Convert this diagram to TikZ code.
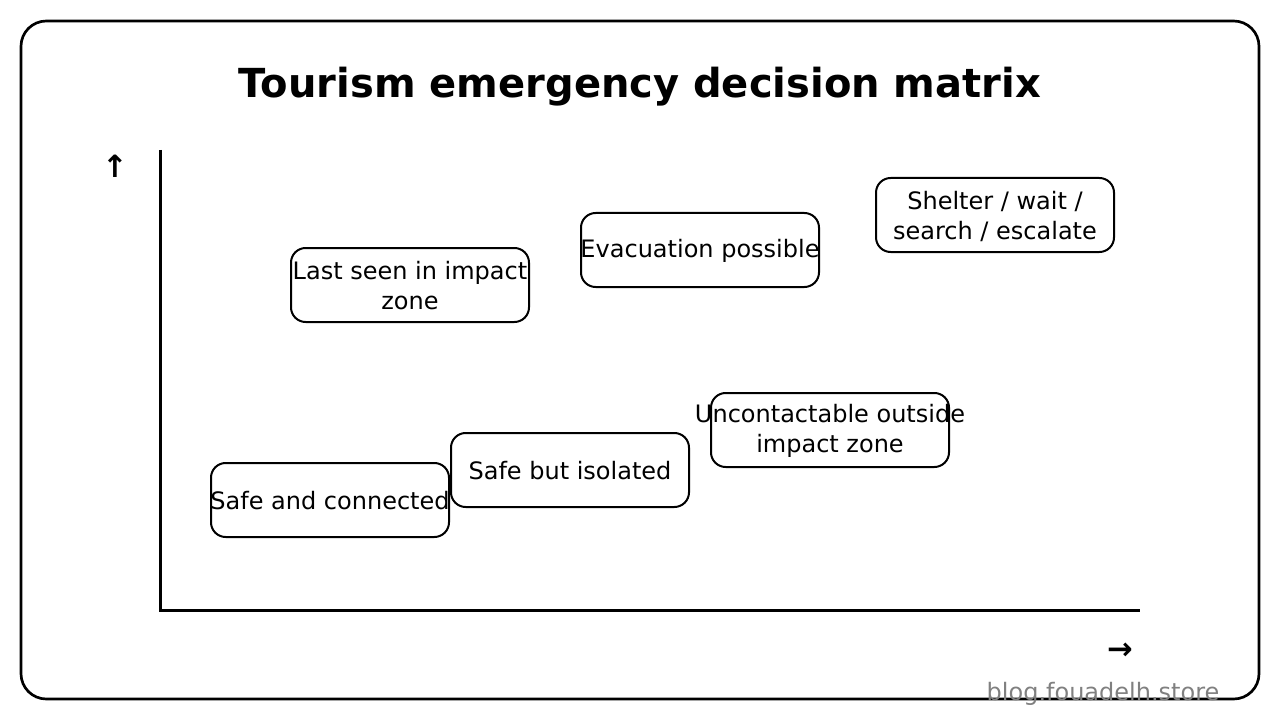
\documentclass[tikz,border=0pt]{standalone}
\usepackage{fontspec}
\setmainfont{DejaVu Sans}
\usetikzlibrary{positioning}
\definecolor{markgray}{HTML}{808080}
\tikzstyle{cell} = [draw, line width=1.5pt, rounded corners=11pt, minimum width=178.5pt, minimum height=55.5pt, inner sep=0pt]
\tikzstyle{celltext} = [align=center, inner sep=0pt, yshift=-0.75pt, font=\fontsize{18}{22.5}\selectfont]
\tikzstyle{axis} = [line width=2.25pt]
\tikzstyle{arrowtext} = [font=\bfseries\fontsize{23}{27}\selectfont]

\begin{document}
\begin{tikzpicture}[x=0.75pt,y=-0.75pt]
\useasboundingbox (0,0) rectangle (1280,720);

% frame and title
\draw[line width=2pt, rounded corners=19pt] (21,21) rectangle (1259,699);
\node[font=\bfseries\fontsize{30}{36}\selectfont] (title) at (640,87) {Tourism emergency decision matrix};

% axes
\coordinate (ytop) at (160,150);
\coordinate (origin) at (160,610);
\coordinate (xend) at (1140,610);
\draw[axis] (ytop) -- (origin) -- (xend);
\node[arrowtext] (yarrow) at (115,166) {↑};
\node[arrowtext] (xarrow) at (1120,651) {→};

% cells
\node[cell, label={[celltext]center:{Last seen in impact\\zone}}] (lastseen) at (410,285) {};
\node[cell, label={[celltext]center:Evacuation possible}] (evac) at (700,250) {};
\node[cell, label={[celltext]center:{Shelter / wait /\\search / escalate}}] (shelter) at (995,215) {};
\node[cell, label={[celltext]center:{Uncontactable outside\\impact zone}}] (uncontact) at (830,430) {};
\node[cell, label={[celltext]center:Safe but isolated}] (isolated) at (570,470) {};
\node[cell, label={[celltext]center:Safe and connected}] (connected) at (330,500) {};

% watermark
\node[text=markgray, font=\fontsize{18}{22}\selectfont] (mark) at (1103,694) {blog.fouadelh.store};
\end{tikzpicture}
\end{document}
